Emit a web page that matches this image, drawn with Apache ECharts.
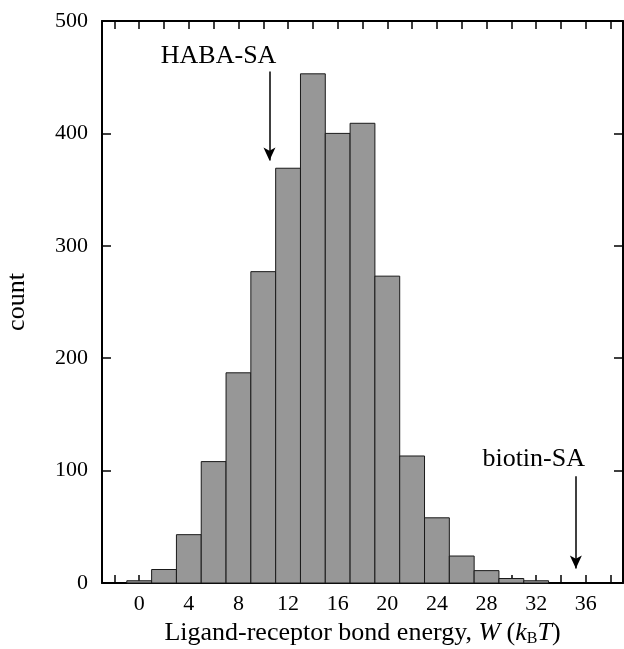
<!DOCTYPE html>
<html>
<head>
<meta charset="utf-8">
<script src="https://cdn.jsdelivr.net/npm/echarts@6/dist/echarts.min.js"></script>
<style>
  html, body { margin: 0; padding: 0; background: #fff; }
  #chart { width: 624px; height: 649px; }
</style>
</head>
<body>
<div id="chart"></div>
<script>
// bin centres (bin width 2) and counts
var binCenters = [0, 2, 4, 6, 8, 10, 12, 14, 16, 18, 20, 22, 24, 26, 28, 30, 32];
var binCounts = [2, 12, 43, 108, 187, 277, 369, 453, 400, 409, 273, 113, 58, 24, 11, 4, 2];
var binWidth = 2;

var xTicks = [-2, 0, 2, 4, 6, 8, 10, 12, 14, 16, 18, 20, 22, 24, 26, 28, 30, 32, 34, 36, 38];
var xLabels = [0, 4, 8, 12, 16, 20, 24, 28, 32, 36];

// arrows: [x, arrow top, arrow tip]; labels: [text, x, y]
var arrows = [[10.5, 455, 376], [35.2, 95, 13]];
var arrowLabels = [['HABA-SA', 6.4, 469], ['biotin-SA', 31.8, 110]];

var FONT = '"Liberation Serif", "Times New Roman", serif';

var chart = echarts.init(document.getElementById('chart'));

var histData = binCenters.map(function (c, i) {
    return [c, binCounts[i]];
});

var frameLine = { show: true, onZero: false, lineStyle: { color: '#000', width: 2 } };
var tickStyle = { color: '#000', width: 1.5 };

var option = {
    animation: false,
    grid: { left: 102, right: 1, top: 21, bottom: 66, outerBoundsMode: 'none', containLabel: false },
    xAxis: [{
        type: 'value',
        min: -3,
        max: 39,
        position: 'bottom',
        axisLine: frameLine,
        axisTick: { inside: true, length: 8, customValues: xTicks, lineStyle: tickStyle },
        axisLabel: { customValues: xLabels, color: '#000', fontFamily: FONT, fontSize: 22, margin: 10 },
        splitLine: { show: false },
        name: '{n|Ligand-receptor bond energy, }{i|W}{n| (}{i|k}{s|B}{i|T}{n|)}',
        nameLocation: 'middle',
        nameGap: 34,
        nameTextStyle: {
            rich: {
                n: { fontFamily: FONT, fontSize: 26, color: '#000' },
                i: { fontFamily: FONT, fontSize: 26, fontStyle: 'italic', color: '#000' },
                s: { fontFamily: FONT, fontSize: 16, color: '#000', verticalAlign: 'bottom', padding: [12, 0, 0, 0] }
            }
        }
    }, {
        type: 'value',
        min: -3,
        max: 39,
        position: 'top',
        axisLine: frameLine,
        axisTick: { inside: true, length: 8, customValues: xTicks, lineStyle: tickStyle },
        axisLabel: { show: false },
        splitLine: { show: false }
    }],
    yAxis: [{
        type: 'value',
        min: 0,
        max: 500,
        interval: 100,
        position: 'left',
        axisLine: frameLine,
        axisTick: { inside: true, length: 9, lineStyle: tickStyle },
        axisLabel: { color: '#000', fontFamily: FONT, fontSize: 22, margin: 14 },
        splitLine: { show: false },
        name: 'count',
        nameLocation: 'middle',
        nameGap: 72,
        nameTextStyle: { fontFamily: FONT, fontSize: 26, color: '#000' }
    }, {
        type: 'value',
        min: 0,
        max: 500,
        interval: 100,
        position: 'right',
        axisLine: frameLine,
        axisTick: { inside: true, length: 9, lineStyle: tickStyle },
        axisLabel: { show: false },
        splitLine: { show: false }
    }],
    series: [{
        type: 'custom',
        xAxisIndex: 0,
        yAxisIndex: 0,
        data: histData,
        renderItem: function (params, api) {
            var c = api.value(0);
            var p0 = api.coord([c - binWidth / 2, api.value(1)]);
            var p1 = api.coord([c + binWidth / 2, 0]);
            return {
                type: 'rect',
                shape: { x: p0[0], y: p0[1], width: p1[0] - p0[0], height: p1[1] - p0[1] },
                style: { fill: '#979797', stroke: '#1a1a1a', lineWidth: 1 }
            };
        },
        markLine: {
            silent: true,
            symbol: ['none', 'arrow'],
            symbolSize: [9, 13],
            lineStyle: { color: '#000', width: 1.5, type: 'solid' },
            label: { show: false },
            data: arrows.map(function (a) {
                return [{ coord: [a[0], a[1]] }, { coord: [a[0], a[2]] }];
            })
        }
    }, {
        type: 'scatter',
        xAxisIndex: 0,
        yAxisIndex: 0,
        symbolSize: 0,
        silent: true,
        itemStyle: { opacity: 1 },
        data: arrowLabels.map(function (l) {
            return { value: [l[1], l[2]], label: { formatter: l[0] } };
        }),
        label: {
            show: true,
            position: 'inside',
            color: '#000',
            opacity: 1,
            fontFamily: FONT,
            fontSize: 26
        }
    }]
};

chart.setOption(option);
</script>
</body>
</html>
